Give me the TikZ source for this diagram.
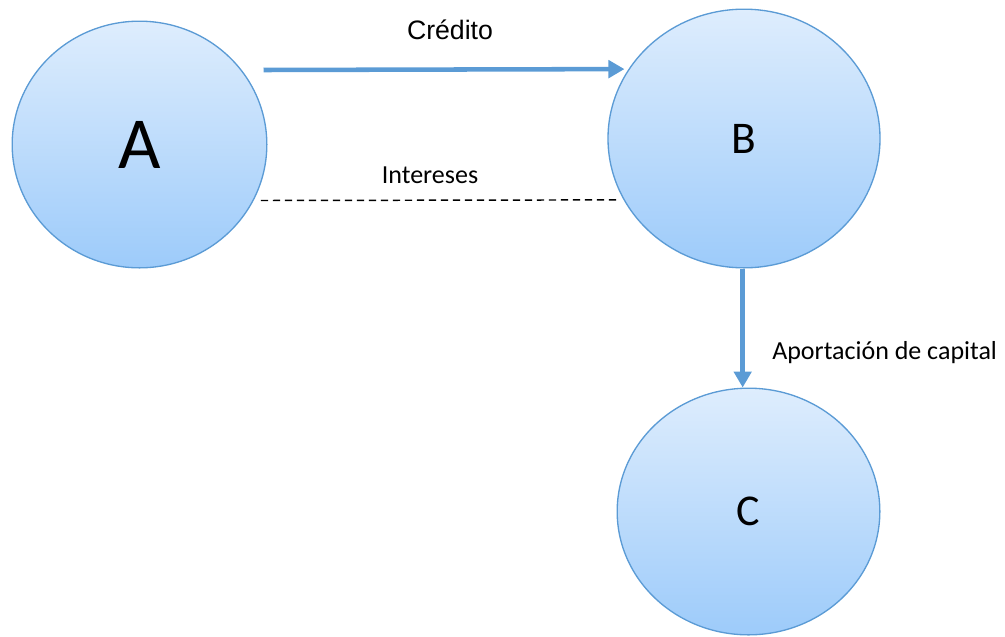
\documentclass[tikz,border=0pt]{standalone}
\usepackage{fontspec}
\setmainfont{Carlito}
\newfontfamily\arialfont{Liberation Sans}
\usetikzlibrary{shapes.geometric,arrows.meta}
\definecolor{edgeblue}{RGB}{91,155,213}
\definecolor{topblue}{RGB}{222,237,253}
\definecolor{botblue}{RGB}{157,203,250}
\tikzset{
	party/.style={ellipse,draw=edgeblue,line width=1pt,inner sep=0pt,
		top color=topblue,bottom color=botblue},
	flow/.style={draw=edgeblue,line width=3.4pt,-{Triangle[length=12pt,width=13pt]}},
	owed/.style={black,line width=1.1pt,dash pattern=on 5.5pt off 3.5pt},
	lbl/.style={inner sep=0pt,font=\fontsize{19.5}{22}\selectfont}
}
\begin{document}
\begin{tikzpicture}[x=0.75pt,y=-0.75pt]
	\useasboundingbox (0,0) rectangle (1005,636);
		\node[party,minimum width=191pt,minimum height=185pt] (A) at (139.5,144.5) {\fontsize{55}{60}\selectfont A};
		\node[party,minimum width=204pt,minimum height=194pt] (B) at (744,138.5) {\fontsize{34}{40}\selectfont B};
		\node[party,minimum width=197pt,minimum height=185pt] (C) at (748.5,511.5) {\fontsize{33}{40}\selectfont C};
			\draw[flow] ([xshift=-3pt]A.east |- 0,70) -- ([xshift=-3pt]B.149);
			\draw[owed] ([xshift=-5pt]A.east |- 0,200.5) -- ([xshift=-5pt]B.207);
			\draw[flow] ([xshift=-1pt]B.south) -- ([xshift=-1pt]B.south |- C.north);
				\node[lbl,font=\arialfont\fontsize{20}{24}\selectfont] (credito) at (450,30) {Crédito};
				\node[lbl] (intereses) at (430,175) {Intereses};
				\node[lbl,anchor=west] (aporte) at (772,353) {Aportación de capital};
\end{tikzpicture}
\end{document}
